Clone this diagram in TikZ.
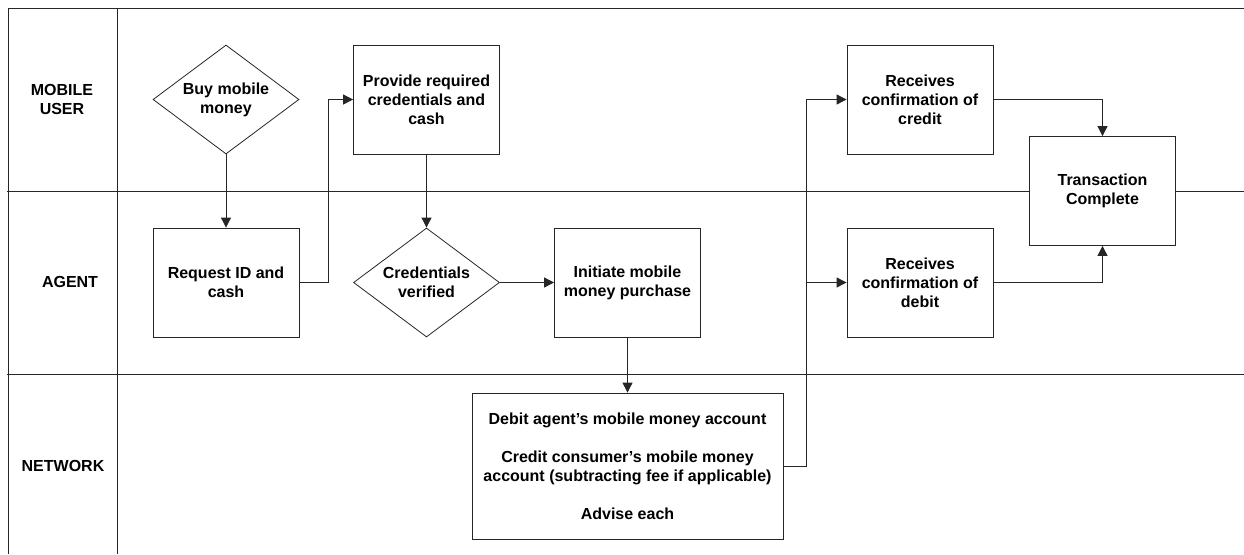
\documentclass[tikz,border=0pt]{standalone}
\usepackage{fontspec}
\setmainfont{Liberation Sans}
\usetikzlibrary{shapes.geometric,arrows.meta}
\tikzset{
  lane/.style={line width=0.8pt,draw=black!85},
  box/.style={draw=black!85,line width=0.8pt,fill=white,rectangle,minimum width=146pt,minimum height=109pt,inner sep=0pt,align=center},
  diam/.style={draw=black!85,line width=0.8pt,fill=white,diamond,aspect=1.34,minimum width=146pt,minimum height=109pt,inner sep=0pt,align=center},
  flow/.style={line width=0.8pt,draw=black!85,-{Triangle[length=10pt,width=10pt]}},
  lanelabel/.style={align=center,inner sep=0pt}
}
\begin{document}
\begin{tikzpicture}[x=1pt,y=-1pt,font=\fontsize{16}{19}\selectfont\bfseries]
    \useasboundingbox (0,0) rectangle (1244,554);
    %lanes
    \draw[lane] (8,554) -- (8,8) -- (1244,8);
    \draw[lane] (117,8) -- (117,554);
    \draw[lane] (7,191) -- (1244,191);
    \draw[lane] (7,374.5) -- (1244,374.5);
    \node[lanelabel] at (62,99) (user) {MOBILE\\USER};
    \node[lanelabel] at (70,282) (agent) {AGENT};
    \node[lanelabel] at (63,466) (network) {NETWORK};
    %steps
    \node[diam] at (226,99.5) (buy) {Buy mobile\\money};
    \node[box] at (226,282.5) (request) {Request ID and\\cash};
    \node[box] at (426.5,99.5) (provide) {Provide required\\credentials and\\cash};
    \node[diam] at (426.5,282.5) (verified) {Credentials\\verified};
    \node[box] at (627.5,282.5) (initiate) {Initiate mobile\\money purchase};
    \node[box,minimum width=311pt,minimum height=146pt] at (627.5,466) (account)
      {Debit agent’s mobile money account\\[19pt]
       Credit consumer’s mobile money\\account (subtracting fee if applicable)\\[19pt]
       Advise each};
    \node[box] at (920,99.5) (credit) {Receives\\confirmation of\\credit};
    \node[box] at (920,282.5) (debit) {Receives\\confirmation of\\debit};
    \node[box] at (1102.5,191) (done) {Transaction\\Complete};
    %flechas
    \draw[flow] (buy) -- (request);
    \draw[flow] (request.east) -- ++(29,0) |- (provide.west);
    \draw[flow] (provide) -- (verified);
    \draw[flow] (verified) -- (initiate);
    \draw[flow] (initiate) -- (account);
    \draw[flow] (account.east) -- ++(23,0) coordinate (split) |- (credit.west);
    \draw[flow] (split) |- (debit.west);
    \draw[flow] (credit.east) -| (done.north);
    \draw[flow] (debit.east) -| (done.south);
\end{tikzpicture}
\end{document}
